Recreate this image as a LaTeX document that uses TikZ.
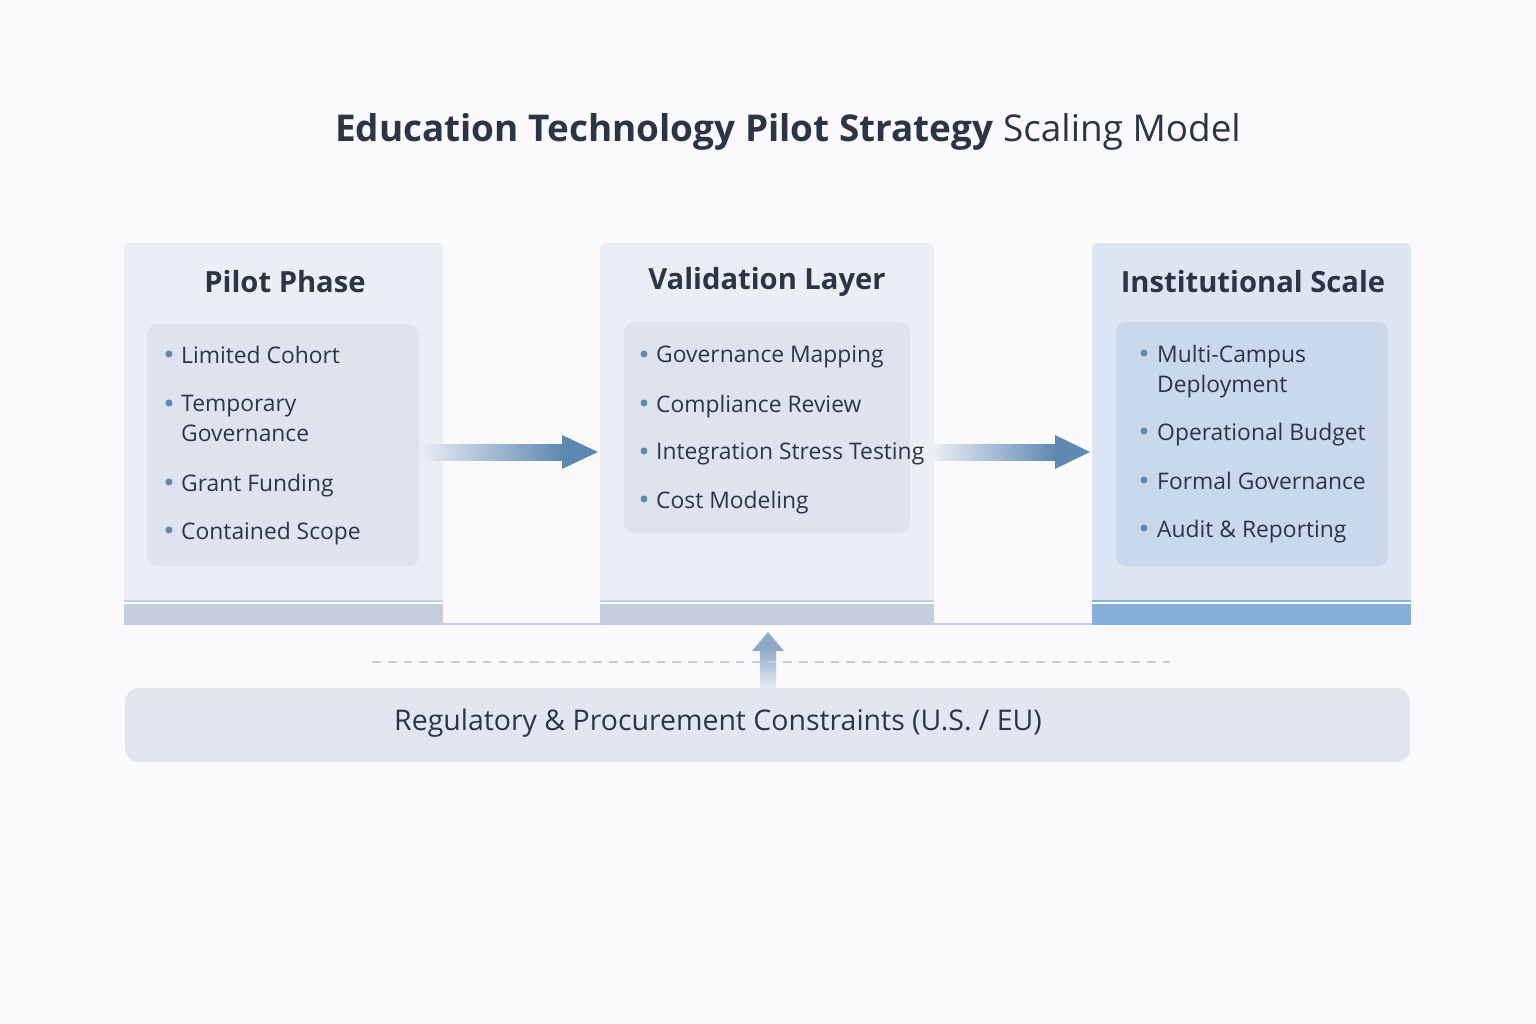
\documentclass[tikz,border=0pt]{standalone}
\usepackage{fontspec}
\setmainfont{Open Sans}
\usetikzlibrary{arrows.meta,positioning}
\definecolor{bg}{HTML}{FBF9FC}
\definecolor{ink}{HTML}{2B3546}
\definecolor{panel}{HTML}{ECEEF5}
\definecolor{inner}{HTML}{DFE3EE}
\definecolor{bluep}{HTML}{DCE5F2}
\definecolor{bluei}{HTML}{C9D8EB}
\definecolor{arr}{HTML}{5D89B2}
\definecolor{band}{HTML}{C6CEDD}
\definecolor{bandb}{HTML}{86B0DA}
\begin{document}
\begin{tikzpicture}[x=0.02cm,y=-0.02cm,
  panelbox/.style={fill=panel,rounded corners=3pt},
  innerbox/.style={fill=inner,rounded corners=6pt},
  head/.style={font=\fontsize{16.6}{20}\selectfont\bfseries,text=ink},
  item/.style={font=\fontsize{13}{17.3}\selectfont,text=ink,anchor=north west,align=left},
  dot/.style={circle,fill=arr,inner sep=1.4pt}]
\fill[bg] (0,0) rectangle (1536,1024);
\useasboundingbox (0,0) rectangle (1536,1024);
\node[font=\fontsize{21}{26}\selectfont,text=ink] (title) at (788,132) {\textbf{Education Technology Pilot Strategy} Scaling Model};
% panels
\fill[panelbox] (124,243) rectangle (443,625);
\fill[panelbox] (600,243) rectangle (934,625);
\fill[bluep,rounded corners=3pt] (1092,243) rectangle (1411,625);
\fill[band] (124,600) rectangle (443,625);
\fill[band] (600,600) rectangle (934,625);
\fill[bandb] (1092,600) rectangle (1411,625);
\draw[white,line width=1pt] (124,603)--(443,603) (600,603)--(934,603) (1092,603)--(1411,603);
\draw[band,line width=0.8pt] (443,624)--(600,624) (934,624)--(1092,624);
\fill[innerbox] (147,324) rectangle (419,566);
\fill[innerbox] (624,322) rectangle (910,533);
\fill[bluei,rounded corners=6pt] (1116,322) rectangle (1388,566);
\node[head] (h1) at (285,282) {Pilot Phase};
\node[head] (h2) at (767,282) {Validation Layer};
\node[head] (h3) at (1253,282) {Institutional Scale};
% items
\foreach \t/\y in {Limited Cohort/340,{Temporary\\Governance}/389,Grant Funding/468,Contained Scope/516}
 {\node[item] at (175,\y) {\t}; \node[dot] at (169,\y+14) {};}
\foreach \t/\y in {Governance Mapping/340,Compliance Review/389,Integration Stress Testing/437,Cost Modeling/485}
 {\node[item] at (650,\y) {\t}; \node[dot] at (644,\y+14) {};}
\foreach \t/\y in {{Multi-Campus\\Deployment}/339,Operational Budget/417,Formal Governance/466,Audit \& Reporting/514}
 {\node[item] at (1151,\y) {\t}; \node[dot] at (1144,\y+14) {};}
% arrows
\coordinate (a1s) at (419,452); \coordinate (a1e) at (598,452);
\coordinate (a2s) at (934,452); \coordinate (a2e) at (1090,452);
\shade[left color=panel,right color=arr] (419,444) rectangle (563,460);
\fill[arr] (562,435)--(a1e)--(562,469)--cycle;
\shade[left color=panel,right color=arr] (934,444) rectangle (1056,460);
\fill[arr] (1055,435)--(a2e)--(1055,469)--cycle;
% up arrow
\shade[top color=arr!70,bottom color=panel] (760,650) rectangle (776,690);
\fill[arr!70] (752,651)--(768,632)--(784,651)--cycle;
\draw[band,line width=1pt,dash pattern=on 5pt off 4pt] (372,662)--(1170,662);
% bottom
\fill[inner!90,rounded corners=8pt] (125,688) rectangle (1410,762);
\node[font=\fontsize{16.2}{19}\selectfont,text=ink] (reg) at (718,723) {Regulatory \& Procurement Constraints (U.S. / EU)};
\end{tikzpicture}
\end{document}
